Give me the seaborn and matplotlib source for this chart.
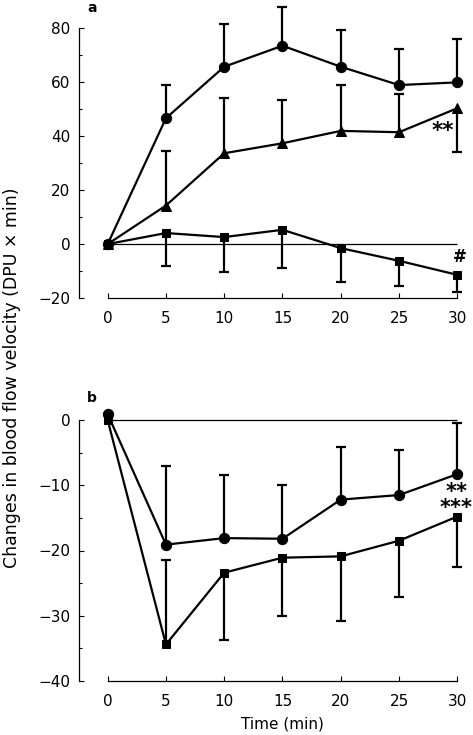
import numpy as np
import pandas as pd
import matplotlib
matplotlib.use("Agg")
import matplotlib.pyplot as plt
import seaborn as sns

# Time points (min)
time = [0, 5, 10, 15, 20, 25, 30]

# Panel a: means and the far end of each (one-sided) error bar
a_circle = [0, 46.7, 65.8, 73.6, 65.8, 59.0, 60.0]
a_circle_bar = [np.nan, 59.1, 81.6, 87.8, 79.4, 72.4, 76.1]
a_triangle = [0, 14.3, 33.7, 37.4, 42.0, 41.5, 50.4]
a_triangle_bar = [np.nan, 34.7, 54.1, 53.4, 59.0, 55.8, 34.3]
a_square = [0, 4.1, 2.6, 5.3, -1.5, -6.2, -11.4]
a_square_bar = [np.nan, -8.0, -10.5, -9.0, -14.2, -15.7, -17.8]

# Panel b
b_circle = [0.9, -19.1, -18.1, -18.2, -12.2, -11.5, -8.3]
b_circle_bar = [np.nan, -7.1, -8.4, -10.0, -4.2, -4.6, -0.4]
b_square = [0, -34.4, -23.4, -21.1, -20.9, -18.5, -14.8]
b_square_bar = [np.nan, -21.4, -33.7, -30.0, -30.8, -27.2, -22.5]

a_yticks = [-20, 0, 20, 40, 60, 80]
a_yminor = [-10, 10, 30, 50, 70]
b_yticks = [-40, -30, -20, -10, 0]
b_yminor = [-35, -25, -15, -5]
xticks = [0, 5, 10, 15, 20, 25, 30]

sns.set_style("ticks")
plt.rcParams["font.family"] = ["DejaVu Sans"]
plt.rcParams.update({"text.color": "black", "axes.labelcolor": "black",
                     "xtick.color": "black", "ytick.color": "black",
                     "axes.edgecolor": "black"})

W, H = 473, 735
fig = plt.figure(figsize=(W / 100, H / 100), dpi=100)
ax_a = fig.add_axes([79 / W, (H - 298) / H, (W - 79) / W, (298 - 1.5) / H])
ax_b = fig.add_axes([79 / W, (H - 681) / H, (W - 79) / W, (681 - 393.9) / H])

XLIM = (-2.46, 31.35)


def series(ax, mean, bar_end, marker, ms):
    df = pd.DataFrame({"time": time, "value": mean})
    sns.lineplot(data=df, x="time", y="value", ax=ax, color="black",
                 marker=marker, markersize=ms, markeredgecolor="black",
                 linewidth=1.6, errorbar=None, clip_on=False, zorder=3)
    t = np.array(time)
    m = np.array(mean)
    e = np.array(bar_end)
    ok = ~np.isnan(e)
    ax.vlines(t[ok], m[ok], e[ok], color="black", linewidth=1.6,
              zorder=2, clip_on=False)
    ax.plot(t[ok], e[ok], ls="none", marker="_", ms=6.7, mew=1.6,
            color="black", zorder=2, clip_on=False)


def style(ax, ylim, major, minor):
    ax.set_xlim(*XLIM)
    ax.set_ylim(*ylim)
    sns.despine(ax=ax)
    ax.spines["left"].set_bounds(min(major), max(major))
    ax.spines["bottom"].set_bounds(0, 30)
    for s in ("left", "bottom"):
        ax.spines[s].set_linewidth(0.9)
    ax.set_xticks(xticks)
    ax.set_yticks(major)
    ax.set_yticks(minor, minor=True)
    ax.tick_params(axis="y", which="major", direction="in", length=3.6,
                   width=0.8, pad=6.3, labelsize=11)
    ax.tick_params(axis="y", which="minor", direction="in", length=2.2,
                   width=0.8)
    ax.tick_params(axis="x", which="major", direction="in", length=3.6,
                   width=0.8, pad=9.0, labelsize=11)
    ax.set_yticklabels([str(v).replace("-", "\u2212") for v in major])
    ax.set_xlabel("")
    ax.set_ylabel("")
    ax.hlines(0, 0, 30, color="black", linewidth=0.9, zorder=1)


# Panel a
series(ax_a, a_circle, a_circle_bar, "o", 7.4)
series(ax_a, a_triangle, a_triangle_bar, "^", 7.0)
series(ax_a, a_square, a_square_bar, "s", 6.2)
style(ax_a, (-20, 90), a_yticks, a_yminor)
ax_a.text(28.8, 42.0, "**", ha="center", va="center", fontsize=15.5,
          fontweight="bold")
ax_a.text(30.25, -4.8, "#", ha="center", va="center", fontsize=12,
          fontweight="bold")

# Panel b
series(ax_b, b_circle, b_circle_bar, "o", 7.4)
series(ax_b, b_square, b_square_bar, "s", 6.2)
style(ax_b, (-40, 4), b_yticks, b_yminor)
ax_b.text(29.92, -12.3, "**\n***", ha="center", va="center",
          multialignment="center", linespacing=0.78, fontsize=15,
          fontweight="bold")

ax_b.set_xlabel("Time (min)", fontsize=11)
ax_b.xaxis.set_label_coords((15 - XLIM[0]) / (XLIM[1] - XLIM[0]), -0.125)
ax_b.xaxis.label.set_va("top")

fig.text(92 / W, (H - 11.5) / H, "a", ha="center", va="baseline",
         fontsize=10, fontweight="bold")
fig.text(92 / W, (H - 401.7) / H, "b", ha="center", va="baseline",
         fontsize=10, fontweight="bold")
fig.text(12 / W, (H - 378) / H,
         "Changes in blood flow velocity (DPU \u00d7 min)",
         rotation=90, ha="center", va="center", fontsize=12.5)

fig.savefig("out.png", dpi=100)
